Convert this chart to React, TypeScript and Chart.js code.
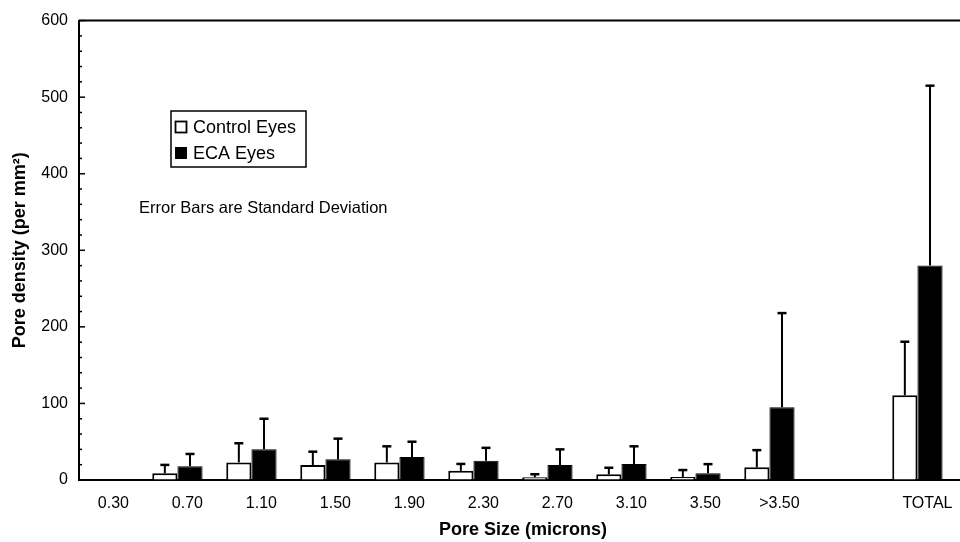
import React, { useEffect, useRef } from 'react';
import { Chart, registerables } from 'chart.js';

Chart.register(...registerables);

// ---- data ----
const categories = ['0.30', '0.70', '1.10', '1.50', '1.90', '2.30', '2.70', '3.10', '3.50', '>3.50', '', 'TOTAL'];
const controlMeans: (number | null)[] = [0, 8.7, 23, 19.5, 23, 12, 3.5, 7.4, 4, 16.5, null, 110.6];
const controlSD: (number | null)[] = [0, 11, 25, 17.5, 21, 9, 4, 8.6, 9, 22.5, null, 70];
const ecaMeans: (number | null)[] = [0, 18, 40, 27, 30, 25, 19.5, 21, 8.7, 95, null, 280];
const ecaSD: (number | null)[] = [0, 16, 40, 27, 20, 17, 20.5, 23, 12, 123, null, 235];
const seriesLabels = ['Control Eyes', 'ECA Eyes'];
const yMin = 0;
const yMax = 600;
const yMajorStep = 100;
const yMinorStep = 20;
const xTitle = 'Pore Size (microns)';
const yTitle = 'Pore density (per mm²)';
const noteText = 'Error Bars are Standard Deviation';

const FONT = '"Liberation Sans", Arial, Helvetica, sans-serif';

function buildPoints(means: (number | null)[], sds: (number | null)[]) {
  return categories
    .map((_, i) => ({ x: i, y: means[i], sd: sds[i] }))
    .filter((p) => p.y !== null);
}

const errorBarPlugin = {
  id: 'errorBars',
  afterDatasetsDraw(chart: any) {
    const ctx = chart.ctx;
    const yScale = chart.scales.y;
    ctx.save();
    ctx.strokeStyle = '#000';
    chart.data.datasets.forEach((ds: any, di: number) => {
      const meta = chart.getDatasetMeta(di);
      meta.data.forEach((el: any, j: number) => {
        const raw = ds.data[j];
        if (!raw || !raw.sd) return;
        const top = yScale.getPixelForValue(raw.y + raw.sd);
        ctx.lineWidth = 2;
        ctx.beginPath();
        ctx.moveTo(el.x, el.y);
        ctx.lineTo(el.x, top);
        ctx.stroke();
        ctx.lineWidth = 2.5;
        ctx.beginPath();
        ctx.moveTo(el.x - 4.5, top);
        ctx.lineTo(el.x + 4.5, top);
        ctx.stroke();
      });
    });
    ctx.restore();
  },
};

const framePlugin = {
  id: 'frame',
  afterDraw(chart: any) {
    const ctx = chart.ctx;
    const { left, right, top } = chart.chartArea;
    const yScale = chart.scales.y;
    ctx.save();
    ctx.strokeStyle = '#000';
    ctx.lineWidth = 2;
    ctx.beginPath();
    ctx.moveTo(left, top);
    ctx.lineTo(right, top);
    ctx.lineTo(right, chart.chartArea.bottom);
    ctx.stroke();
    // inward tick marks on y axis
    ctx.lineWidth = 1.5;
    yScale.ticks.forEach((t: any) => {
      const py = yScale.getPixelForValue(t.value);
      const len = t.value % yMajorStep === 0 ? 6 : 3;
      ctx.beginPath();
      ctx.moveTo(left, py);
      ctx.lineTo(left + len, py);
      ctx.stroke();
    });

    // legend box
    const bx = 171, by = 111, bw = 135, bh = 56;
    ctx.lineWidth = 1.5;
    ctx.strokeRect(bx, by, bw, bh);
    ctx.font = `18px ${FONT}`;
    ctx.textBaseline = 'middle';
    ctx.textAlign = 'left';
    ctx.fillStyle = '#000';
    chart.data.datasets.forEach((ds: any, i: number) => {
      const cy = by + 16 + i * 26;
      const mx = 175, ms = 12;
      if (i === 0) {
        ctx.fillStyle = '#fff';
        ctx.fillRect(mx, cy - ms / 2, ms, ms);
        ctx.lineWidth = 1.8;
        ctx.strokeRect(mx + 0.5, cy - ms / 2 + 0.5, ms - 1, ms - 1);
      } else {
        ctx.fillStyle = '#000';
        ctx.fillRect(mx, cy - ms / 2, ms, ms);
      }
      ctx.fillStyle = '#000';
      ctx.fillText(ds.label, 193, cy + 1);
    });

    // note text
    ctx.font = `16.5px ${FONT}`;
    ctx.fillText(noteText, 139, 208);
    ctx.restore();
  },
};

export default function App() {
  const canvasRef = useRef<HTMLCanvasElement | null>(null);

  useEffect(() => {
    const canvas = canvasRef.current;
    if (!canvas) return;
    const chart = new Chart(canvas, {
      type: 'bar',
      data: {
        datasets: [
          {
            label: seriesLabels[0],
            data: buildPoints(controlMeans, controlSD) as any,
            backgroundColor: '#fff',
            borderColor: '#000',
            borderWidth: 2,
            categoryPercentage: 0.68,
            barPercentage: 1,
          },
          {
            label: seriesLabels[1],
            data: buildPoints(ecaMeans, ecaSD) as any,
            backgroundColor: '#000',
            borderColor: '#000',
            borderWidth: 1,
            categoryPercentage: 0.68,
            barPercentage: 1,
          },
        ],
      },
      options: {
        responsive: false,
        animation: false,
        devicePixelRatio: 1,
        layout: { padding: { top: 19, right: 1, left: 0, bottom: 0 } },
        plugins: {
          legend: { display: false },
          tooltip: { enabled: false },
        },
        scales: {
          x: {
            type: 'linear',
            offset: false,
            min: -0.33,
            max: 11.67,
            afterBuildTicks: (scale: any) => {
              scale.ticks = categories.map((_, i) => ({ value: i }));
            },
            afterFit: (scale: any) => {
              scale.height = 62;
            },
            grid: { display: true, drawOnChartArea: false, drawTicks: false },
            border: { display: true, color: '#000', width: 2 },
            ticks: {
              autoSkip: false,
              maxRotation: 0,
              padding: 14,
              labelOffset: 10,
              color: '#000',
              font: { family: FONT, size: 16 },
              callback: (v: any) => categories[Math.round(Number(v))] ?? '',
            },
            title: {
              display: true,
              text: xTitle,
              color: '#000',
              font: { family: FONT, size: 18, weight: 'bold' },
              padding: { top: 0, bottom: 1 },
            },
          },
          y: {
            min: yMin,
            max: yMax,
            afterFit: (scale: any) => {
              scale.width = 79;
            },
            grid: { display: true, drawOnChartArea: false, drawTicks: false },
            border: { display: true, color: '#000', width: 2 },
            ticks: {
              stepSize: yMinorStep,
              autoSkip: false,
              padding: 11,
              color: '#000',
              font: { family: FONT, size: 16 },
              callback: (v: any) => (Number(v) % yMajorStep === 0 ? String(v) : ''),
            },
            title: {
              display: true,
              text: yTitle,
              color: '#000',
              font: { family: FONT, size: 18, weight: 'bold' },
              padding: { top: 9, bottom: 0 },
            },
          },
        },
      } as any,
      plugins: [errorBarPlugin, framePlugin],
    });
    return () => chart.destroy();
  }, []);

  return (
    <div
      style={{
        position: 'fixed',
        left: 0,
        top: 0,
        width: 960,
        height: 542,
        overflow: 'hidden',
        background: '#fff',
      }}
    >
      <canvas ref={canvasRef} width={968} height={542} style={{ display: 'block' }} />
    </div>
  );
}
